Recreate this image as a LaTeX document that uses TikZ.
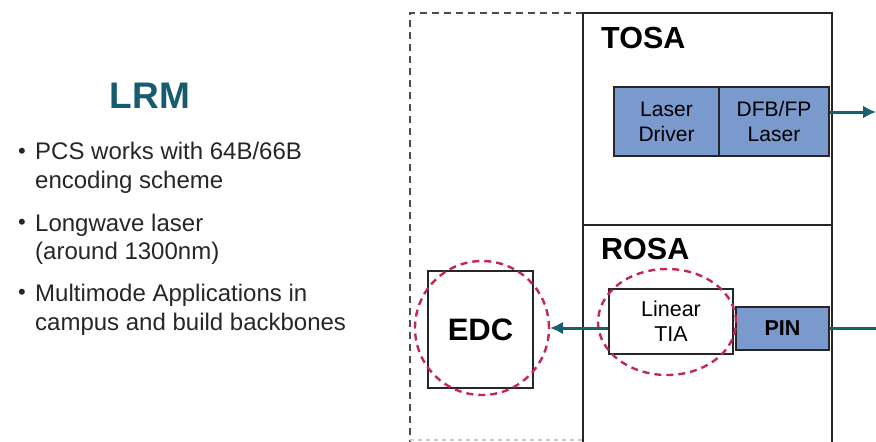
\documentclass[tikz,border=0pt]{standalone}
\usepackage{fontspec}
\setmainfont{Liberation Sans}
\usetikzlibrary{shapes.geometric,arrows.meta}

\definecolor{lrmteal}{RGB}{22,92,108}
\definecolor{sigteal}{RGB}{24,96,110}
\definecolor{boxblue}{RGB}{122,153,204}
\definecolor{ringred}{RGB}{196,40,80}

\tikzset{
	blk/.style={draw=black!85,line width=1.8pt,inner sep=0pt,align=center},
	bluebox/.style={blk,fill=boxblue,font=\fontsize{21}{25}\selectfont},
	ring/.style={draw=ringred,line width=2.4pt,dash pattern=on 7pt off 5pt,inner sep=0pt},
	sig/.style={draw=sigteal,line width=3pt},
	txt/.style={anchor=base west,inner sep=0pt,text=black!85,font=\fontsize{24}{28.5}\selectfont},
	dot/.style={anchor=base,inner sep=0pt,text=black!85,font=\fontsize{22}{26}\selectfont},
	hdr/.style={anchor=base west,inner sep=0pt,font=\fontsize{30.5}{36}\selectfont\bfseries}
}

\begin{document}
\begin{tikzpicture}[x=1pt,y=-1pt]
\useasboundingbox (0,0) rectangle (876,442);

% left column
\node[anchor=base,inner sep=0pt,text=lrmteal,font=\fontsize{37}{44}\selectfont\bfseries] (title) at (150,108) {LRM};

\node[dot] (b1) at (22,158) {\textbullet};
\node[txt] (l1) at (35,159.5) {PCS works with 64B/66B};
\node[txt] (l2) at (35,188) {encoding scheme};
\node[dot] (b2) at (22,229.5) {\textbullet};
\node[txt] (l3) at (35,231) {Longwave laser};
\node[txt] (l4) at (35,259.5) {(around 1300nm)};
\node[dot] (b3) at (22,299.5) {\textbullet};
\node[txt] (l5) at (35,301) {Multimode Applications in};
\node[txt] (l6) at (35,330) {campus and build backbones};

% module frames
\draw[gray!60!black,line width=1.8pt,dash pattern=on 7pt off 5pt] (583,13) -- (410,13) -- (410,442);
\draw[gray!40,line width=1.2pt,dash pattern=on 4pt off 4pt] (410,440) -- (583,440);
\draw[black!85,line width=1.8pt] (583,442) -- (583,13) -- (832,13) -- (832,442);
\draw[black!85,line width=1.8pt] (583,225) -- (832,225);

\node[hdr] (tosa) at (601,48) {TOSA};
\node[hdr] (rosa) at (601,259) {ROSA};

% TOSA blocks
\node[bluebox,minimum width=105,minimum height=69] (drv) at (666.5,121.5) {Laser\\Driver};
\node[bluebox,minimum width=110,minimum height=69] (dfb) at (774,121.5) {DFB/FP\\Laser};

% ROSA blocks
\node[blk,fill=white,minimum width=124,minimum height=65,font=\fontsize{21.5}{25}\selectfont] (tia) at (671,321.5) {Linear\\TIA};
\node[bluebox,minimum width=93,minimum height=43,font=\fontsize{21.5}{25}\selectfont\bfseries] (pin) at (782.5,328.5) {PIN};
\node[blk,fill=white,minimum width=105,minimum height=117,font=\fontsize{31}{36}\selectfont\bfseries] (edc) at (480.5,329.5) {EDC};

% highlight rings
\node[ring,circle,minimum size=134] (edcring) at (482,328) {};
\node[ring,ellipse,minimum width=138,minimum height=106] (tiaring) at (667,322) {};

% signals
\coordinate (txout) at (876,112);
\coordinate (rxin) at (876,328);
\draw[sig,-{Latex[length=13pt,width=13pt]}] (dfb.east |- txout) -- (txout);
\draw[sig] (rxin) -- (pin.east |- rxin);
\draw[sig,-{Latex[length=13pt,width=13pt]}] (tia.west |- edcring.east) -- (edcring.east);

\end{tikzpicture}
\end{document}
